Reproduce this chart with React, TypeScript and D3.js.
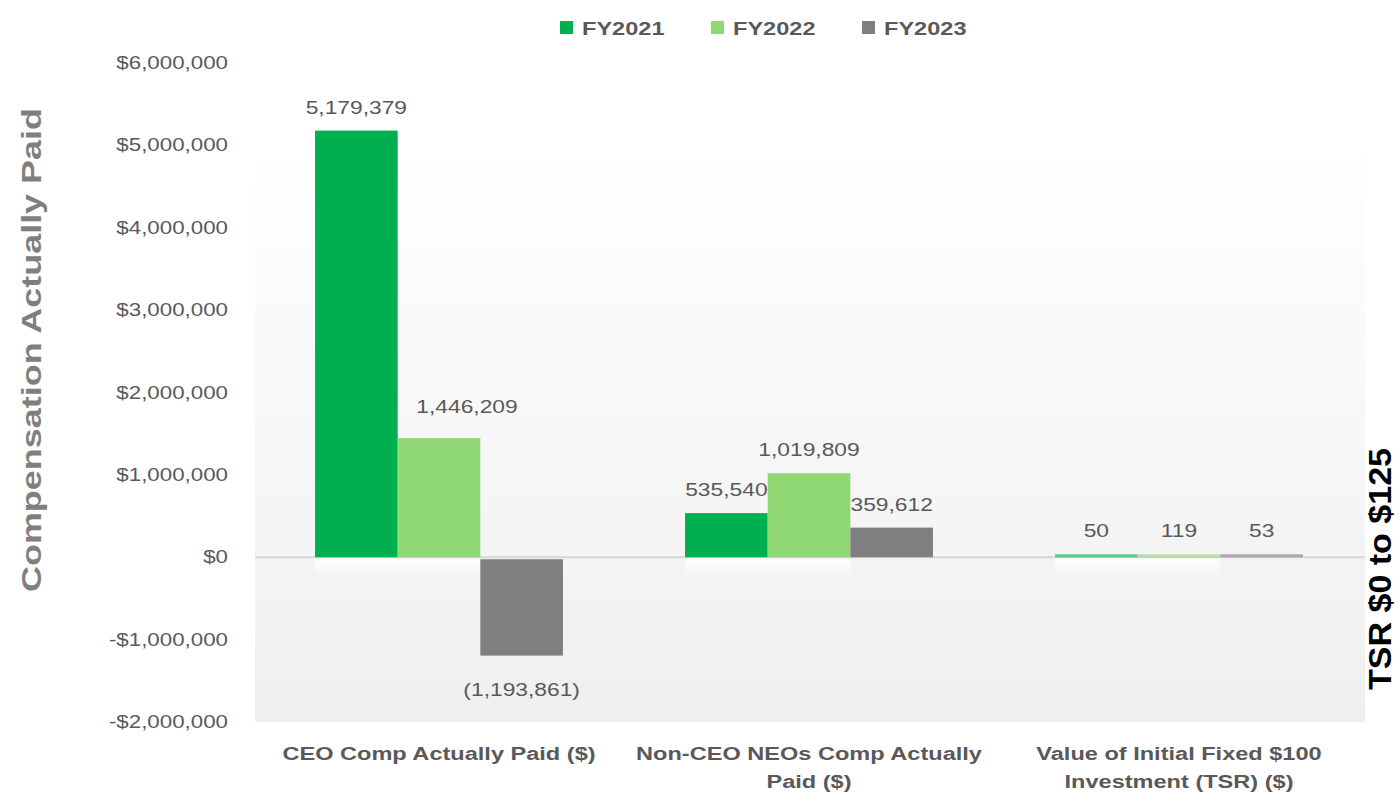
import React from 'react';
import * as d3 from 'd3';

const W = 1400;
const H = 793;

const categories = [
  'CEO Comp Actually Paid ($)',
  'Non-CEO NEOs Comp Actually Paid ($)',
  'Value of Initial Fixed $100 Investment (TSR) ($)',
];
const categoryLines = [
  ['CEO Comp Actually Paid ($)'],
  ['Non-CEO NEOs Comp Actually', 'Paid ($)'],
  ['Value of Initial Fixed $100', 'Investment (TSR) ($)'],
];
const seriesNames = ['FY2021', 'FY2022', 'FY2023'];
const fy2021 = [5179379, 535540, 50];
const fy2022 = [1446209, 1019809, 119];
const fy2023 = [-1193861, 359612, 53];
const yTicks = [-2000000, -1000000, 0, 1000000, 2000000, 3000000, 4000000, 5000000, 6000000];

const colors = ['#00b050', '#8fd873', '#7f7f7f'];
const textGray = '#595959';
const font = '"Liberation Sans", Arial, sans-serif';
const SX = 1.24; // the source picture is stretched horizontally

const plot = { left: 255, right: 1365, top: 135, bottom: 722 };

// small manual nudges of data labels, as in the source
const labelNudge: Record<string, [number, number]> = {
  '1-0': [28, -8],
};

const fmtNum = d3.format(',');
const fmtLabel = (v: number) => (v < 0 ? `(${fmtNum(-v)})` : fmtNum(v));
const fmtTick = (v: number) => (v < 0 ? `-$${fmtNum(-v)}` : `$${fmtNum(v)}`);

const SText = ({
  x,
  y,
  anchor = 'middle',
  size,
  weight = 400,
  fill = textGray,
  sx = SX,
  children,
}: {
  x: number;
  y: number;
  anchor?: string;
  size: number;
  weight?: number;
  fill?: string;
  sx?: number;
  children: React.ReactNode;
}) => (
  <text
    transform={`translate(${x},${y}) scale(${sx},1)`}
    textAnchor={anchor}
    fontSize={size}
    fontWeight={weight}
    fill={fill}
    fontFamily={font}
  >
    {children}
  </text>
);

export default function App() {
  const series = [fy2021, fy2022, fy2023];

  const y = d3.scaleLinear().domain([-2000000, 6000000]).range([722, 63]);

  const x0 = d3
    .scaleBand<string>()
    .domain(categories)
    .range([254, 1364])
    .paddingInner(0.33)
    .paddingOuter(0.165);

  const x1 = d3
    .scaleBand<string>()
    .domain(seriesNames)
    .range([0, x0.bandwidth()]);

  const zero = y(0);

  return (
    <svg
      width={W}
      height={H}
      style={{ position: 'absolute', left: 0, top: 0, background: '#ffffff' }}
    >
      <defs>
        <linearGradient id="plotBg" x1="0" y1="0" x2="0" y2="1">
          <stop offset="0%" stopColor="#ffffff" />
          <stop offset="45%" stopColor="#f8f8f8" />
          <stop offset="100%" stopColor="#efefef" />
        </linearGradient>
        <linearGradient id="reflect" x1="0" y1="0" x2="0" y2="1">
          <stop offset="0%" stopColor="#ffffff" stopOpacity={0.95} />
          <stop offset="100%" stopColor="#ffffff" stopOpacity={0} />
        </linearGradient>
      </defs>

      {/* plot background */}
      <rect
        x={plot.left}
        y={plot.top}
        width={plot.right - plot.left}
        height={plot.bottom - plot.top}
        fill="url(#plotBg)"
      />

      {/* legend */}
      {seriesNames.map((name, i) => (
        <g key={name}>
          <rect x={560 + i * 151} y={21} width={13} height={13} fill={colors[i]} />
          <SText x={582 + i * 151} y={34.5} anchor="start" size={19} weight={700}>
            {name}
          </SText>
        </g>
      ))}

      {/* y ticks */}
      {yTicks.map((t) => (
        <SText key={t} x={228} y={y(t) + 6} anchor="end" size={18}>
          {fmtTick(t)}
        </SText>
      ))}

      {/* reflections below positive green bars */}
      {categories.map((c, ci) =>
        series.slice(0, 2).map((s, si) =>
          s[ci] > 0 ? (
            <rect
              key={`r-${ci}-${si}`}
              x={(x0(c) ?? 0) + (x1(seriesNames[si]) ?? 0)}
              y={zero + 1}
              width={x1.bandwidth()}
              height={18}
              fill="url(#reflect)"
            />
          ) : null
        )
      )}

      {/* zero line */}
      <line x1={plot.left} x2={plot.right} y1={zero} y2={zero} stroke="#d6d6d6" strokeWidth={2} />

      {/* bars */}
      {categories.map((c, ci) =>
        series.map((s, si) => {
          const v = s[ci];
          const bx = (x0(c) ?? 0) + (x1(seriesNames[si]) ?? 0);
          const bw = x1.bandwidth();
          let top = Math.min(y(v), zero);
          let h = Math.abs(y(v) - zero);
          if (h < 3) {
            h = 3;
            top = zero - 3;
          }
          const cx = bx + bw / 2;
          const [dx, dy] = labelNudge[`${si}-${ci}`] ?? [0, 0];
          const ly = v < 0 ? top + h + 40 : top - 17;
          return (
            <g key={`b-${ci}-${si}`}>
              <rect
                x={bx}
                y={v < 0 ? zero + 2 : top}
                width={bw}
                height={v < 0 ? h - 2 : h}
                fill={colors[si]}
                opacity={h <= 3 ? 0.6 : 1}
              />
              <SText x={cx + dx} y={ly + dy} size={19} sx={1.2}>
                {fmtLabel(v)}
              </SText>
            </g>
          );
        })
      )}

      {/* category labels */}
      {categories.map((c, ci) =>
        categoryLines[ci].map((line, li) => (
          <SText
            key={`${c}-${li}`}
            x={(x0(c) ?? 0) + x0.bandwidth() / 2}
            y={760 + li * 28}
            size={19}
            weight={700}
          >
            {line}
          </SText>
        ))
      )}

      {/* y-axis title */}
      <text
        transform="translate(41,350) rotate(-90)"
        textAnchor="middle"
        fontSize={28}
        fontWeight={700}
        fill="#7f7f7f"
        fontFamily={font}
        textLength={484}
        lengthAdjust="spacingAndGlyphs"
      >
        Compensation Actually Paid
      </text>

      {/* secondary axis title */}
      <text
        transform="translate(1391,569) rotate(-90)"
        textAnchor="middle"
        fontSize={32}
        fontWeight={700}
        fill="#000000"
        fontFamily={font}
        textLength={242}
        lengthAdjust="spacingAndGlyphs"
      >
        TSR $0 to $125
      </text>
    </svg>
  );
}
